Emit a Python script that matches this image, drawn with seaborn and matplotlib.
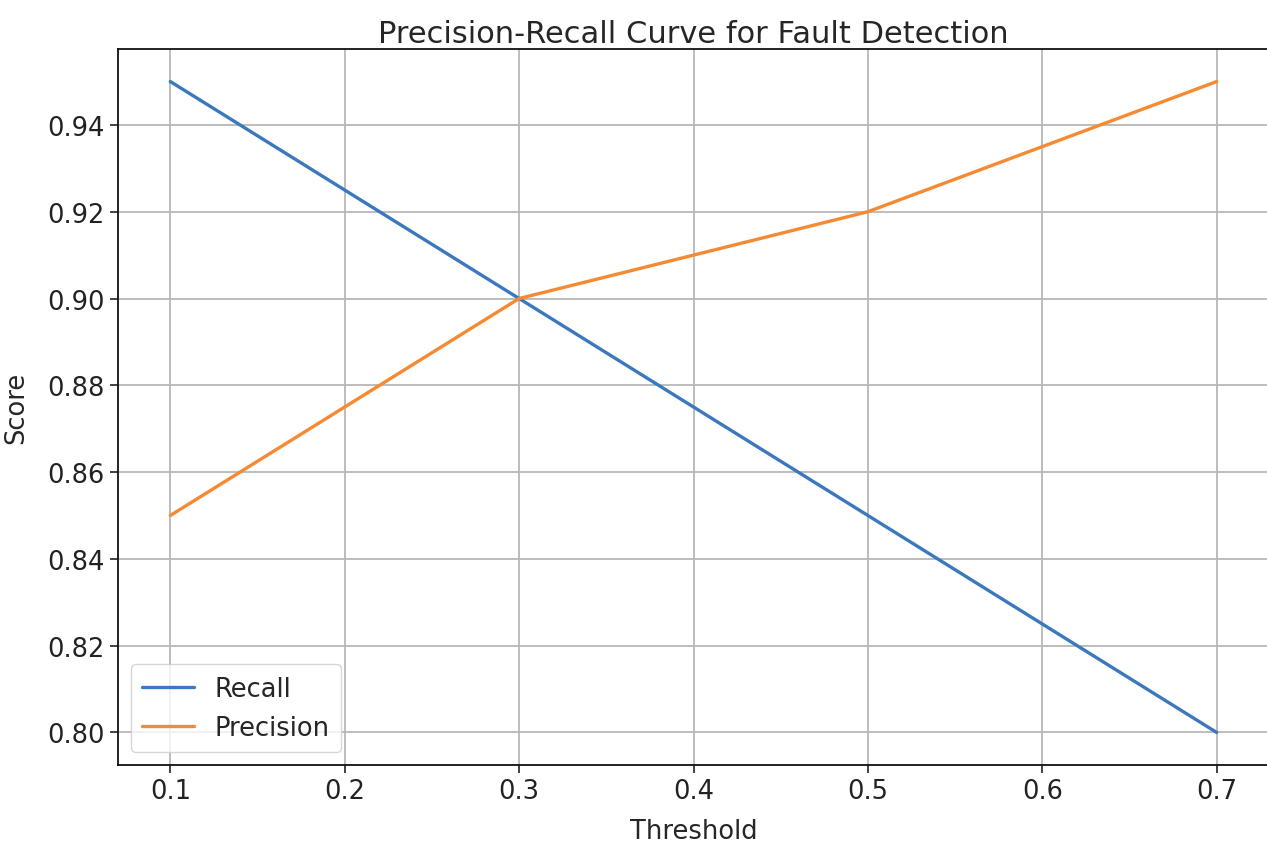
import numpy as np
import pandas as pd
import seaborn as sns
import matplotlib.pyplot as plt

# threshold sweep results
thresholds = [0.1, 0.3, 0.5, 0.7]
recall = [0.95, 0.90, 0.85, 0.80]
precision = [0.85, 0.90, 0.92, 0.95]

df = pd.DataFrame({
    'Threshold': thresholds * 2,
    'Score': recall + precision,
    'Metric': ['Recall'] * len(thresholds) + ['Precision'] * len(thresholds),
})

sns.set_style('ticks')
plt.rcParams['font.family'] = ['DejaVu Sans']

fig = plt.figure(figsize=(12.67, 8.45), dpi=100)
ax = fig.add_axes([118 / 1267, 1 - 766 / 845, 1151 / 1267, 716 / 845])

sns.lineplot(data=df, x='Threshold', y='Score', hue='Metric',
             palette=['#3b78bd', '#f58a33'], linewidth=2.4, ax=ax)

ax.set_xticks([0.1, 0.2, 0.3, 0.4, 0.5, 0.6, 0.7])
ax.set_yticks(np.arange(0.80, 0.95, 0.02))
ax.tick_params(labelsize=18.5, length=6, width=1.2, colors='#222222')
ax.grid(True, color='#b8b8b8', linewidth=1.3)
for s in ax.spines.values():
    s.set_linewidth(1.3)
    s.set_color('#111111')

ax.set_title('Precision-Recall Curve for Fault Detection', fontsize=22, pad=5)
ax.set_xlabel('Threshold', fontsize=18.5)
ax.set_ylabel('Score', fontsize=18.5)
ax.xaxis.set_label_coords(0.5, -0.074)
ax.yaxis.set_label_coords(-0.077, 0.5)

leg = ax.legend(loc='lower left', fontsize=18.5, title=None, framealpha=0.8,
                borderpad=0.45, handlelength=2.0)
for line in leg.get_lines():
    line.set_linewidth(2.4)

fig.savefig('out.png', dpi=100)
